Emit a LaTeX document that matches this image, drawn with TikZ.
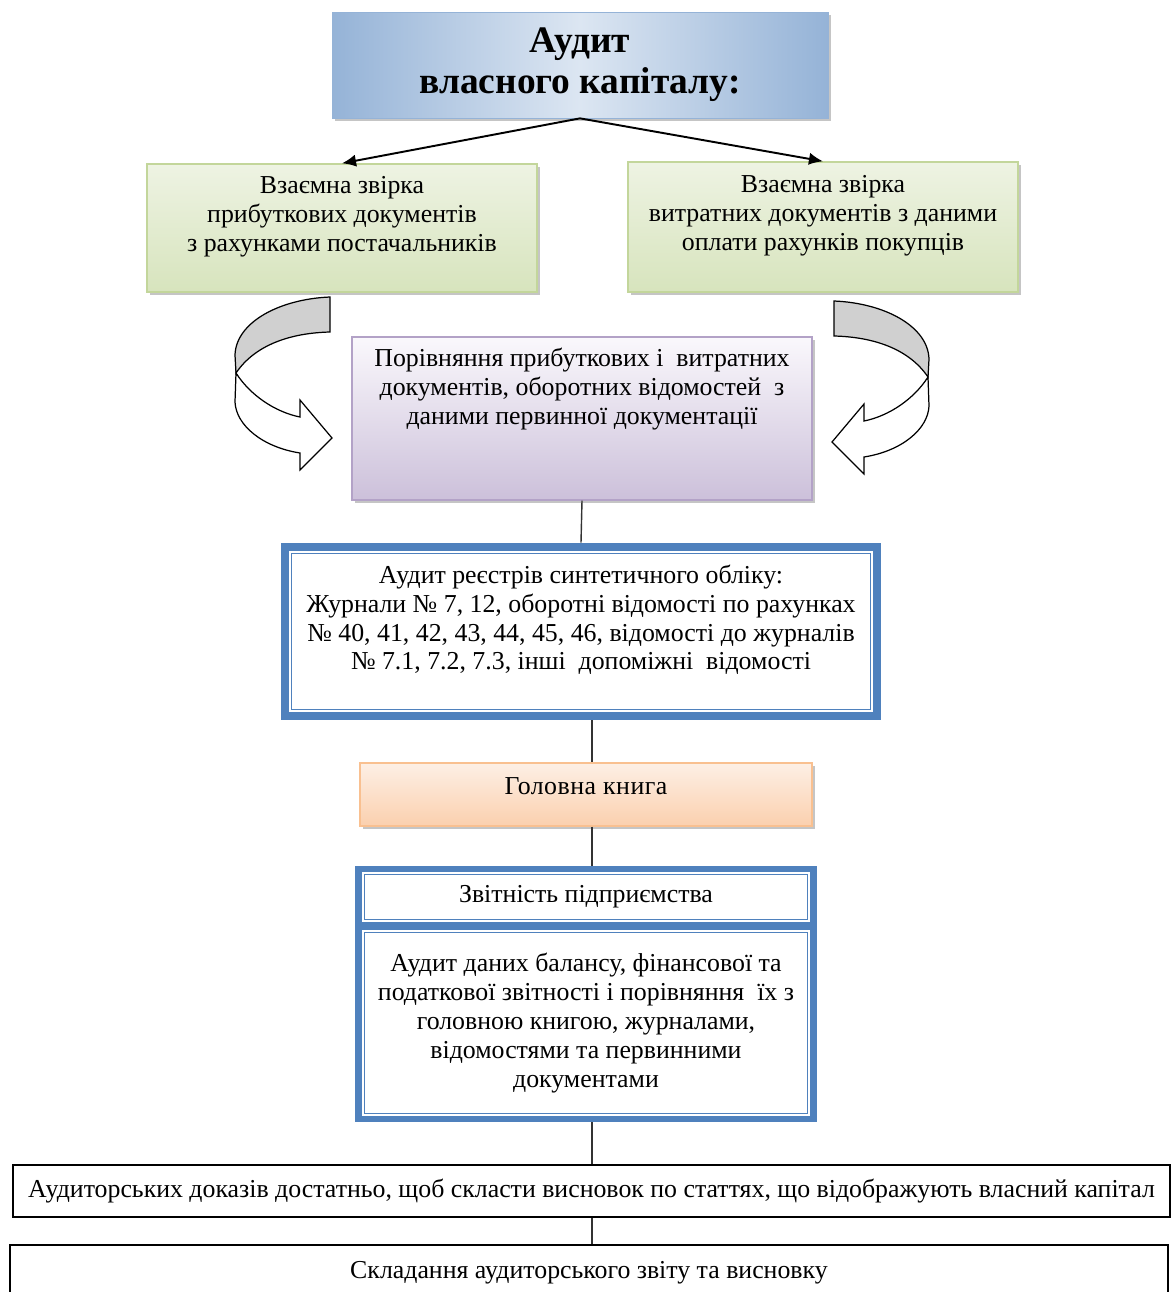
\documentclass[tikz,border=0pt]{standalone}
\usepackage{fontspec}
\setmainfont{Liberation Serif}
\usetikzlibrary{positioning,shadows,arrows.meta,calc}

\definecolor{frameblue}{HTML}{4F81BD}
\definecolor{titledark}{HTML}{95B3D7}
\definecolor{titlelight}{HTML}{DCE6F2}
\definecolor{greentop}{HTML}{EEF3E3}
\definecolor{greenbot}{HTML}{D7E4BD}
\definecolor{greenedge}{HTML}{C3D69B}
\definecolor{lilactop}{HTML}{FAF8FC}
\definecolor{lilacbot}{HTML}{CCC0DA}
\definecolor{lilacedge}{HTML}{B3A2C7}
\definecolor{peachtop}{HTML}{FDEFE5}
\definecolor{peachbot}{HTML}{FBD0AE}
\definecolor{peachedge}{HTML}{F9C090}
\definecolor{bendgray}{HTML}{D0D0D0}

\newcommand{\bodysize}{\fontsize{14.7}{16.4}\selectfont}
\newcommand{\titlesize}{\fontsize{21.3}{23.5}\selectfont\bfseries}

% curved arrow beside the comparison box (left one; the right one is mirrored)
\newcommand{\bendarrow}{%
  \filldraw[fill=bendgray, line width=0.7pt]
    (330,297) .. controls (280,299) and (236,322) .. (235,355)
    -- (236,373) .. controls (255,345) and (290,333) .. (330,332) -- cycle;
  \filldraw[fill=white, line width=0.7pt]
    (236,373) .. controls (250,395) and (275,412) .. (300,417)
    -- (300,400) -- (332,438) -- (300,470) -- (300,453)
    .. controls (262,447) and (236,425) .. (235,402) -- cycle;
}

\begin{document}
\begin{tikzpicture}[
                x=0.02cm, y=-0.02cm,
                every node/.style={font=\bodysize, align=center, inner sep=0pt},
                sized/.style 2 args={minimum width=#1*0.02cm, minimum height=#2*0.02cm},
                boxshadow/.style={drop shadow={shadow xshift=1.6pt, shadow yshift=-1.6pt, fill=black!45, opacity=.5}},
                titlebox/.style={boxshadow, draw=titledark, left color=titledark, right color=titledark, middle color=titlelight},
                greenbox/.style={boxshadow, draw=greenedge, line width=0.8pt, top color=greentop, bottom color=greenbot},
                lilacbox/.style={boxshadow, draw=lilacedge, line width=0.8pt, top color=lilactop, bottom color=lilacbot},
                peachbox/.style={boxshadow, draw=peachedge, line width=0.8pt, top color=peachtop, bottom color=peachbot},
                frame/.style={fill=frameblue},
                panel/.style={fill=white, path picture={
                    \draw[frameblue, line width=0.9pt]
                        ([shift={(2.5,2.5)}]path picture bounding box.north west) rectangle
                        ([shift={(-2.5,-2.5)}]path picture bounding box.south east);}},
                plainbox/.style={draw=black, line width=0.9pt, fill=white},
                link/.style={draw=black!80, line width=0.8pt},
                fork/.style={draw=black, line width=1.1pt, -{Latex[length=8pt, width=7pt]}}
            ]
                \useasboundingbox (0,0) rectangle (1173,1292);

                \node [titlebox, sized={496}{106}, font=\titlesize] (title) at (580,65) {Аудит\\власного капіталу:};

                \node [greenbox, sized={390}{128}] (lcheck) at (342,228) {};
                \node (lcheck-t) at (342,217) {Взаємна звірка\\прибуткових документів\\з рахунками постачальників};
                \node [greenbox, sized={390}{130}] (rcheck) at (823,227) {};
                \node (rcheck-t) at (823,216) {Взаємна звірка\\витратних документів з даними\\оплати рахунків покупців};

                \draw [fork] (title.south) -- (lcheck.north);
                \draw [fork] (title.south) -- (rcheck.north);

                \bendarrow
                \begin{scope}[shift={(1164,4)}, xscale=-1]
                    \bendarrow
                \end{scope}

                \node [lilacbox, sized={460}{163}] (compare) at (582,418.5) {};
                \node (compare-t) at (582,389) {Порівняння прибуткових і \ витратних\\документів, оборотних відомостей \ з\\даними первинної документації};

                \node [frame, sized={600}{177}] (regs) at (581,631.5) {};
                \node [panel, sized={584}{161}] (regs-in) at (regs.center) {};
                \node (regs-t) at (581,620) {Аудит реєстрів синтетичного обліку:\\Журнали № 7, 12, оборотні відомості по рахунках\\№ 40, 41, 42, 43, 44, 45, 46, відомості до журналів\\№ 7.1, 7.2, 7.3, інші \ допоміжні \ відомості};

                \node [peachbox, sized={452}{63}] (ledger) at (586,794.5) {};
                \node (ledger-t) at (586,786) {\addfontfeatures{LetterSpace=2}Головна книга};

                \node [frame, sized={462}{256}] (rep) at (586,994) {};
                \node [panel, sized={448}{50}] (repA) at (586,897) {Звітність підприємства};
                \node [panel, sized={448}{186}] (repB) at (586,1023) {Аудит даних балансу, фінансової та\\податкової звітності і порівняння \ їх з\\головною книгою, журналами,\\відомостями та первинними\\документами};

                \node [plainbox, sized={1157}{52}] (enough) at (591.5,1191) {Аудиторських доказів достатньо, щоб скласти висновок по статтях, що відображують власний капітал};
                \node [plainbox, sized={1158}{55}] (final) at (589,1272.5) {Складання аудиторського звіту та висновку};

                % vertical spine of the lower part
                \coordinate (axis) at (592,0);
                \draw [link] (compare.south) -- (regs.north);
                \draw [link] (regs.south -| axis) -- (ledger.north -| axis);
                \draw [link] (ledger.south -| axis) -- (rep.north -| axis);
                \draw [link] (rep.south -| axis) -- (enough.north -| axis);
                \draw [link] (enough.south -| axis) -- (final.north -| axis);
            \end{tikzpicture}
\end{document}
